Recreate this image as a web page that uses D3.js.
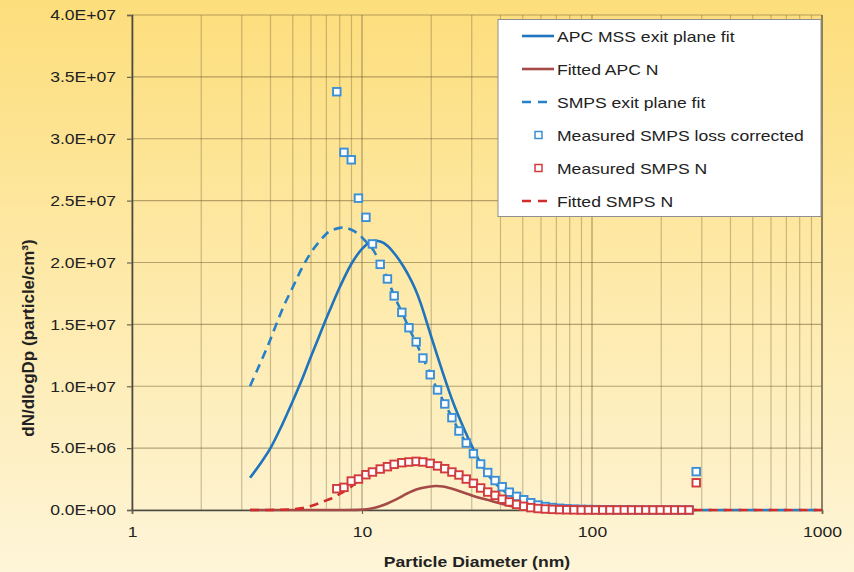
<!DOCTYPE html>
<html>
<head>
<meta charset="utf-8">
<script src="https://cdn.jsdelivr.net/npm/d3@7"></script>
<style>
  body { margin: 0; }
  svg { display: block; font-family: "Liberation Sans", Arial, sans-serif; }
</style>
</head>
<body>
<div id="chart"></div>
<script>
// measured SMPS channels (nm), 32 per decade
const smpsDiam = [7.77, 8.35, 8.98, 9.65, 10.4, 11.1, 12.0, 12.9, 13.8, 14.9, 16.0, 17.2, 18.4, 19.8, 21.3, 22.9, 24.6, 26.4, 28.4, 30.5,
  32.8, 35.2, 37.9, 40.7, 43.7, 47.0, 50.5, 54.2, 58.3, 62.6, 67.3, 72.3, 77.7, 83.5, 89.8, 96.5, 103.7, 111.4, 119.7, 128.6,
  138.2, 148.6, 159.6, 171.5, 184.3, 198.1, 212.9, 228.8, 245.8, 264.2, 283.9];
// values in millions of particles/cm3
const smpsLossCorrected = [33.8, 28.9, 28.3, 25.2, 23.65, 21.5, 19.85, 18.67, 17.3, 15.97, 14.73, 13.58, 12.28, 10.93, 9.70, 8.57, 7.46, 6.38, 5.41, 4.55,
  3.72, 3.03, 2.38, 1.88, 1.44, 1.10, 0.83, 0.59, 0.40, 0.28, 0.20, 0.14, 0.10, 0.07, 0.05, 0.04, 0.03, 0.02, 0.02, 0.01,
  0.01, 0.01, 0, 0, 0, 0, 0, 0, 0, 0, 3.1];
const smpsN = [1.72, 1.83, 2.34, 2.5, 2.85, 3.07, 3.31, 3.5, 3.69, 3.82, 3.88, 3.93, 3.88, 3.77, 3.56, 3.34, 3.07, 2.83, 2.5, 2.16,
  1.78, 1.45, 1.18, 0.87, 0.65, 0.45, 0.30, 0.19, 0.12, 0.08, 0.05, 0.03, 0.02, 0.01, 0, 0, 0, 0, 0, 0,
  0, 0, 0, 0, 0, 0, 0, 0, 0, 0, 2.2];

// fitted curves (diameter nm, value in millions)
const apcFitDiam = [3.26, 3.6, 4.0, 4.5, 5.0, 5.5, 6.0, 6.5, 7.0, 7.5, 8, 9, 10, 11, 12, 13, 14, 15, 16, 17,
  18, 20, 22, 25, 28, 30, 33, 36, 40, 45, 50, 55, 62, 70, 80, 100];
const apcFitVal = [2.6, 3.7, 5.0, 6.9, 8.8, 10.6, 12.4, 14.0, 15.5, 16.8, 18.0, 19.9, 21.1, 21.7, 21.7, 21.3, 20.6, 19.8, 18.9, 17.9,
  16.7, 14.0, 11.6, 8.6, 6.4, 5.2, 3.7, 2.65, 1.75, 1.1, 0.68, 0.42, 0.2, 0.09, 0.03, 0];

const apcNFitDiam = [3.26, 8, 9.5, 10.5, 11.5, 12.5, 13.5, 14.5, 15.5, 16.5, 18, 19.5, 21, 22.5, 24, 26, 28, 30, 33, 36,
  40, 45, 50, 55, 60, 70, 80, 100];
const apcNFitVal = [0, 0, 0.01, 0.06, 0.2, 0.42, 0.7, 0.98, 1.28, 1.52, 1.75, 1.88, 1.94, 1.9, 1.78, 1.58, 1.38, 1.18, 0.95, 0.76,
  0.52, 0.3, 0.15, 0.07, 0.03, 0.01, 0, 0];

const smpsFitDiam = [3.26, 3.5, 3.8, 4.0, 4.26, 4.6, 5.0, 5.5, 6.0, 6.6, 7.2, 8.0, 8.5, 9.5, 10.5, 11.2, 12.0, 12.9, 13.8, 14.9,
  16.0, 17.2, 18.4, 19.8, 21.3, 22.9, 24.6, 26.4, 28.4, 30.5, 32.8, 35.2, 37.9, 40.7, 43.7, 47.0, 50.5, 54.2, 58.3, 62.6,
  67.3, 72.3, 80, 90, 100, 120, 150, 1000];
const smpsFitVal = [10.0, 11.3, 12.8, 13.8, 15.1, 16.6, 18.0, 19.6, 20.8, 21.8, 22.5, 22.8, 22.8, 22.4, 21.6, 21.0, 19.9, 18.7, 17.3, 16.0,
  14.7, 13.5, 12.3, 11.0, 9.7, 8.6, 7.5, 6.4, 5.4, 4.5, 3.7, 3.0, 2.4, 1.88, 1.45, 1.07, 0.8, 0.58, 0.4, 0.28,
  0.19, 0.13, 0.08, 0.04, 0.02, 0.005, 0, 0];

const smpsNFitDiam = [3.26, 4.0, 4.5, 5.0, 5.5, 6.0, 6.5, 7.0, 7.5, 8.0, 8.5, 9.0, 9.65, 10.4, 11.1, 12.0, 12.9, 13.8, 14.9, 16.0,
  17.2, 18.4, 19.8, 21.3, 22.9, 24.6, 26.4, 28.4, 30.5, 32.8, 35.2, 37.9, 40.7, 43.7, 47.0, 50.5, 54.2, 58.3, 62.6, 67.3,
  72.3, 80, 90, 100, 1000];
const smpsNFitVal = [0, 0.005, 0.02, 0.06, 0.15, 0.33, 0.55, 0.78, 1.0, 1.3, 1.6, 1.9, 2.4, 2.85, 3.1, 3.35, 3.55, 3.72, 3.84, 3.9,
  3.92, 3.88, 3.77, 3.57, 3.34, 3.07, 2.8, 2.5, 2.17, 1.8, 1.47, 1.18, 0.9, 0.67, 0.47, 0.32, 0.2, 0.12, 0.07, 0.04,
  0.02, 0.01, 0.003, 0, 0];

const xTicks = [1, 10, 100, 1000];
const yTicks = [0, 5, 10, 15, 20, 25, 30, 35, 40];
const yTickLabels = ["0.0E+00", "5.0E+06", "1.0E+07", "1.5E+07", "2.0E+07", "2.5E+07", "3.0E+07", "3.5E+07", "4.0E+07"];

const width = 854, height = 572;
const plotLeft = 132, plotRight = 822, plotTop = 15, plotBottom = 510;
const stretchK = 1.17;

const svg = d3.select("#chart").append("svg")
  .attr("width", width)
  .attr("height", height);

const grad = svg.append("defs").append("linearGradient")
  .attr("id", "bg").attr("x1", 0).attr("y1", 0).attr("x2", 0).attr("y2", 1);
grad.append("stop").attr("offset", "0%").attr("stop-color", "#fdde7c");
grad.append("stop").attr("offset", "100%").attr("stop-color", "#fef5d8");

svg.append("rect").attr("width", width).attr("height", height).attr("fill", "url(#bg)");

const x = d3.scaleLog().domain([1, 1000]).range([plotLeft, plotRight]);
const y = d3.scaleLinear().domain([0, 40]).range([plotBottom, plotTop]);

// grid
const grid = svg.append("g");
grid.selectAll(".vg")
  .data(x.ticks())
  .enter().append("line")
    .attr("x1", d => x(d)).attr("x2", d => x(d))
    .attr("y1", plotTop).attr("y2", plotBottom)
    .attr("stroke", d => xTicks.includes(d) ? "rgba(110,90,50,0.55)" : "rgba(110,90,50,0.35)")
    .attr("stroke-width", 1.2);
grid.selectAll(".hg")
  .data(yTicks)
  .enter().append("line")
    .attr("x1", plotLeft).attr("x2", plotRight)
    .attr("y1", d => y(d)).attr("y2", d => y(d))
    .attr("stroke", "rgba(110,90,50,0.5)")
    .attr("stroke-width", 1.2);
svg.append("line")
  .attr("x1", plotRight).attr("x2", plotRight).attr("y1", plotTop).attr("y2", plotBottom)
  .attr("stroke", "#6b624c").attr("stroke-width", 1.3);

// axes
const yAxis = svg.append("g")
  .attr("transform", `translate(${plotLeft},0)`)
  .call(d3.axisLeft(y).tickValues(yTicks).tickSize(5).tickPadding(11)
    .tickFormat((d, i) => yTickLabels[i]));
const xAxis = svg.append("g")
  .attr("transform", `translate(0,${plotBottom})`)
  .call(d3.axisBottom(x).tickValues(xTicks).tickSize(4).tickPadding(12)
    .tickFormat(d3.format("d")));
[yAxis, xAxis].forEach(a => {
  a.select(".domain").attr("stroke", "#4a4a44").attr("stroke-width", 1.6);
  a.selectAll(".tick line").attr("stroke", "#6b6656").attr("stroke-width", 1.2);
  a.selectAll(".tick text").attr("font-size", 15).attr("fill", "#222")
    .attr("font-family", "'Liberation Sans', Arial, sans-serif");
});

// lines
const line = d3.line()
  .x(d => x(d[0]))
  .y(d => y(d[1]))
  .curve(d3.curveCatmullRom.alpha(0.5));

const curves = [
  { d: apcFitDiam, v: apcFitVal, color: "#1f74bd", dash: null },
  { d: apcNFitDiam, v: apcNFitVal, color: "#a44b48", dash: null },
  { d: smpsFitDiam, v: smpsFitVal, color: "#2680c8", dash: "9,6" },
  { d: smpsNFitDiam, v: smpsNFitVal, color: "#d22b2b", dash: "9,6" }
];
curves.forEach(c => {
  svg.append("path")
    .datum(d3.zip(c.d, c.v))
    .attr("d", line)
    .attr("fill", "none")
    .attr("stroke", c.color)
    .attr("stroke-width", 2.6)
    .attr("stroke-dasharray", c.dash);
});

// measured squares
const sq = 7.5;
function squares(vals, color) {
  svg.append("g").selectAll("rect")
    .data(d3.zip(smpsDiam, vals))
    .enter().append("rect")
      .attr("x", d => x(d[0]) - sq / 2)
      .attr("y", d => y(d[1]) - sq / 2)
      .attr("width", sq).attr("height", sq)
      .attr("fill", "#fff")
      .attr("stroke", color)
      .attr("stroke-width", 1.9);
}
squares(smpsLossCorrected, "#3a8fd6");
squares(smpsN, "#d23a3c");

// axis titles
svg.append("text")
  .attr("class", "stretch")
  .attr("x", 477).attr("y", 567)
  .attr("text-anchor", "middle")
  .attr("font-size", 15).attr("font-weight", "bold").attr("fill", "#222")
  .text("Particle Diameter (nm)");
svg.append("text")
  .attr("transform", "translate(34,338) rotate(-90)")
  .attr("text-anchor", "middle")
  .attr("font-size", 17).attr("font-weight", "bold").attr("fill", "#222")
  .text("dN/dlogDp  (particle/cm³)");

// legend
const legend = svg.append("g").attr("transform", "translate(498,19.5)");
legend.append("rect")
  .attr("width", 323).attr("height", 197)
  .attr("fill", "#fff").attr("stroke", "#8f8f8f").attr("stroke-width", 1);
const legendItems = [
  { name: "APC MSS exit plane fit", type: "line", color: "#1f74bd", dash: null },
  { name: "Fitted APC N", type: "line", color: "#a44b48", dash: null },
  { name: "SMPS exit plane fit", type: "line", color: "#2680c8", dash: "9,7" },
  { name: "Measured SMPS loss corrected", type: "square", color: "#3a8fd6" },
  { name: "Measured SMPS N", type: "square", color: "#d23a3c" },
  { name: "Fitted SMPS N", type: "line", color: "#d22b2b", dash: "9,7" }
];
const rowY = d3.scaleBand().domain(legendItems.map(d => d.name)).range([0, 198]);
const item = legend.selectAll(".item")
  .data(legendItems)
  .enter().append("g")
    .attr("transform", d => `translate(0,${rowY(d.name) + rowY.bandwidth() / 2})`);
item.filter(d => d.type === "line").append("line")
  .attr("x1", 24).attr("x2", 56)
  .attr("stroke", d => d.color).attr("stroke-width", 2.6)
  .attr("stroke-dasharray", d => d.dash);
item.filter(d => d.type === "square").append("rect")
  .attr("x", 37).attr("y", -3.5).attr("width", 7).attr("height", 7)
  .attr("fill", "#fff").attr("stroke", d => d.color).attr("stroke-width", 1.5);
item.append("text")
  .attr("class", "stretch")
  .attr("x", 59).attr("y", 5.5)
  .attr("font-size", 15).attr("fill", "#222")
  .text(d => d.name);

// the reference text is slightly wide; stretch horizontal labels to match
svg.selectAll(".tick text, text.stretch").each(function() {
  const len = this.getComputedTextLength();
  d3.select(this).attr("textLength", len * stretchK).attr("lengthAdjust", "spacingAndGlyphs");
});
</script>
</body>
</html>
